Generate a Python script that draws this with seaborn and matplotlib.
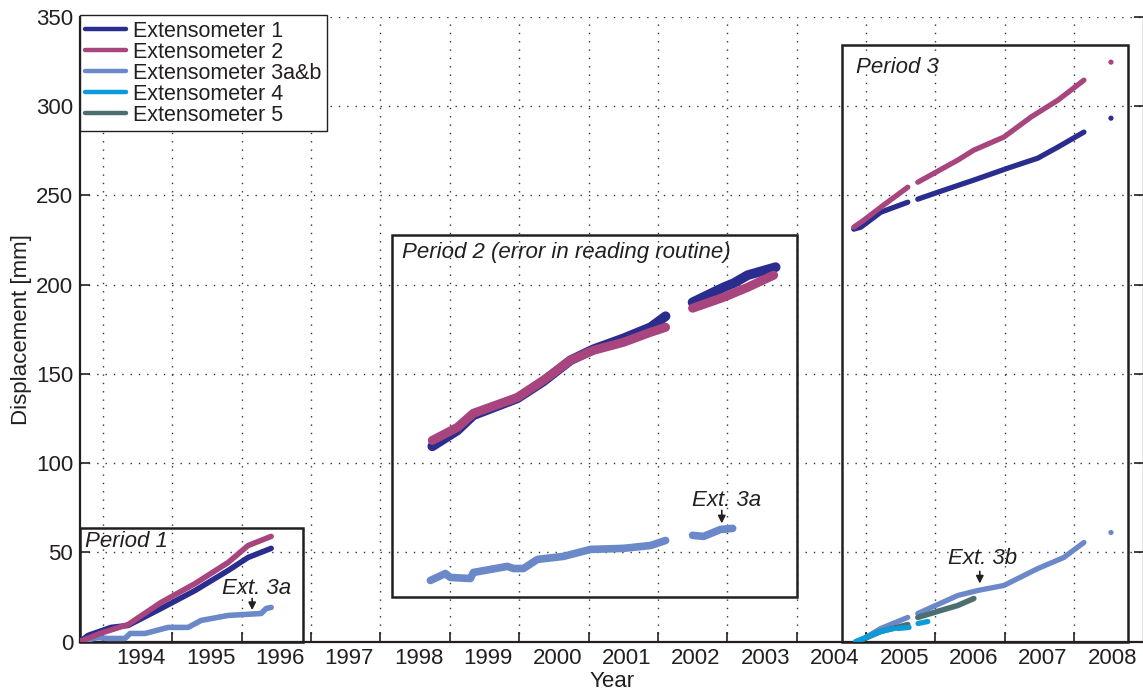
import numpy as np
import pandas as pd
import matplotlib
matplotlib.use("Agg")
import matplotlib.pyplot as plt
from matplotlib.lines import Line2D
from matplotlib.patches import Rectangle
import seaborn as sns

NAN = np.nan

# ---------------------------------------------------------------------------
# Extensometer readings: decimal year and displacement [mm].
# NaN marks a gap in the logging.
# ---------------------------------------------------------------------------
# Period 1
p1_ext1_t = [1993.668, 1993.784, 1994.115, 1994.361, 1994.837, 1995.328, 1995.804, 1996.092, 1996.424]
p1_ext1_y = [0.0, 3.4, 7.9, 9.0, 18.5, 28.6, 39.8, 47.1, 52.2]
p1_ext2_t = [1993.668, 1993.957, 1994.361, 1994.837, 1995.328, 1995.804, 1996.092, 1996.424]
p1_ext2_y = [0.0, 4.5, 9.5, 21.9, 32.5, 44.3, 53.8, 58.9]
p1_ext3_t = [1993.668, 1993.928, 1994.072, 1994.317, 1994.390, 1994.606, 1994.938, 1995.227,
             1995.414, 1995.804, 1996.280, 1996.352, 1996.424]
p1_ext3_y = [0.0, 2.2, 1.7, 1.7, 4.5, 4.5, 7.9, 7.9, 11.8, 14.6, 15.7, 18.5, 19.1]

# Period 2
p2_ext1_t = [1998.747, 1999.108, 1999.339, 1999.974, 2000.349, 2000.739, 2001.071, 2001.504,
             2001.893, 2002.110, NAN, 2002.499, 2002.947, 2003.091, 2003.293, 2003.697]
p2_ext1_y = [109.4, 118.3, 126.8, 136.3, 145.8, 157.6, 163.8, 169.9,
             176.1, 182.3, NAN, 190.1, 198.5, 200.8, 205.3, 209.8]
p2_ext2_t = [1998.747, 1999.108, 1999.339, 1999.974, 2000.349, 2000.739, 2001.071, 2001.504,
             2001.893, 2002.110, NAN, 2002.499, 2002.947, 2003.293, 2003.668]
p2_ext2_y = [112.7, 120.0, 127.9, 136.8, 146.4, 157.6, 163.2, 167.7,
             173.3, 176.1, NAN, 186.8, 192.9, 198.5, 205.3]
p2_ext3_t = [1998.719, 1998.935, 1999.007, 1999.296, 1999.339, 1999.830, 1999.917, 2000.061,
             2000.263, 2000.638, 2001.027, 2001.504, 2001.893, 2002.110, NAN,
             2002.499, 2002.658, 2002.903, 2003.077]
p2_ext3_y = [34.2, 38.1, 35.9, 35.3, 38.7, 42.1, 40.9, 40.9,
             46.0, 47.7, 51.6, 52.2, 53.8, 56.6, NAN,
             59.5, 58.9, 62.8, 63.4]

# Period 3
p3_ext1_t = [2004.823, 2004.924, 2005.212, 2005.602, NAN, 2005.746, 2006.035, 2006.554,
             2007.045, 2007.477, 2007.766, 2008.141]
p3_ext1_y = [231.1, 232.2, 240.6, 246.2, NAN, 247.9, 251.8, 258.6,
             265.3, 270.9, 277.1, 285.5]
p3_ext2_t = [2004.823, 2004.967, 2005.212, 2005.602, NAN, 2005.746, 2006.323, 2006.554,
             2006.987, 2007.377, 2007.766, 2008.141]
p3_ext2_y = [232.2, 236.1, 243.4, 254.6, NAN, 257.4, 269.8, 275.4,
             282.7, 293.9, 303.4, 314.6]
p3_ext3_t = [2004.924, 2005.212, 2005.602, NAN, 2005.746, 2006.323, 2006.612, 2006.987,
             2007.477, 2007.852, 2008.141]
p3_ext3_y = [0.6, 7.3, 13.5, NAN, 15.7, 25.8, 28.6, 31.4, 40.9, 47.1, 55.5]
p3_ext4_t = [2004.850, 2005.070, 2005.210, 2005.400, NAN, 2005.460, 2005.620, NAN, 2005.750, 2005.890]
p3_ext4_y = [0.0, 3.4, 5.6, 7.3, NAN, 7.3, 7.9, NAN, 10.1, 11.2]
p3_ext5_t = [2004.880, 2005.212, 2005.602, NAN, 2005.746, 2006.078, 2006.323, 2006.554]
p3_ext5_y = [0.0, 5.6, 9.5, NAN, 13.5, 17.4, 20.2, 24.1]

# Isolated last readings (2008)
last_t = [2008.531, 2008.531, 2008.531]
last_y = [293.3, 324.7, 61.1]
last_sensor = ["Extensometer 1", "Extensometer 2", "Extensometer 3a&b"]

sensors = ["Extensometer 1", "Extensometer 2", "Extensometer 3a&b",
           "Extensometer 4", "Extensometer 5"]
colors = ["#2b2d8e", "#a8457f", "#6b88c9", "#0c9bd9", "#4b6f6e"]
palette = dict(zip(sensors, colors))

years = list(range(1994, 2009))
year_labels = [str(y) for y in years]


def to_frame(t, y, sensor, period):
    """Long-format frame; each NaN-separated run becomes its own unit."""
    t = np.asarray(t, float)
    y = np.asarray(y, float)
    seg = np.cumsum(np.isnan(t))
    df = pd.DataFrame({"year": t, "disp": y, "sensor": sensor,
                       "seg": [f"{period}-{sensor}-{s}" for s in seg]})
    return df.dropna()


# Drawing order per period (later = on top) and stroke width in points
layers = [
    (p1_ext3_t, p1_ext3_y, sensors[2], "P1", 4.0),
    (p1_ext1_t, p1_ext1_y, sensors[0], "P1", 4.0),
    (p1_ext2_t, p1_ext2_y, sensors[1], "P1", 4.0),
    (p2_ext3_t, p2_ext3_y, sensors[2], "P2", 5.5),
    (p2_ext1_t, p2_ext1_y, sensors[0], "P2", 7.0),
    (p2_ext2_t, p2_ext2_y, sensors[1], "P2", 6.5),
    (p3_ext1_t, p3_ext1_y, sensors[0], "P3", 3.8),
    (p3_ext2_t, p3_ext2_y, sensors[1], "P3", 3.8),
    (p3_ext3_t, p3_ext3_y, sensors[2], "P3", 3.8),
    (p3_ext5_t, p3_ext5_y, sensors[4], "P3", 4.0),
    (p3_ext4_t, p3_ext4_y, sensors[3], "P3", 3.8),
]

sns.set_theme(style="white")
plt.rcParams["font.family"] = ["Liberation Sans", "DejaVu Sans"]
plt.rcParams["font.size"] = 16
text_color = "#231f20"

fig = plt.figure(figsize=(11.43, 6.92), dpi=100)
W, H = 1143.0, 692.0
ax = fig.add_axes([80 / W, (H - 641.5) / H, (1143.5 - 80) / W, (641.5 - 17) / H])

for t, y, sensor, period, width in layers:
    df = to_frame(t, y, sensor, period)
    sns.lineplot(data=df, x="year", y="disp", units="seg", estimator=None,
                 color=palette[sensor], lw=width, sort=False, legend=False,
                 solid_capstyle="round", solid_joinstyle="round", ax=ax, zorder=3)

last = pd.DataFrame({"year": last_t, "disp": last_y, "sensor": last_sensor})
sns.scatterplot(data=last, x="year", y="disp", hue="sensor", palette=palette,
                s=14, linewidth=0, legend=False, ax=ax, zorder=3)

ax.set_xlim(1993.668, 2009.0)
ax.set_ylim(0, 350)

# Grid lines at the turn of each year; labels sit inside the year
ax.set_xticks(years)
ax.set_xticklabels([])
ax.set_xticks([y + 0.55 for y in years], minor=True)
ax.set_xticklabels(year_labels, minor=True)
ax.set_yticks(np.arange(0, 351, 50))
ax.tick_params(axis="x", which="major", direction="in", length=7, width=1.2,
               color=text_color, bottom=True, top=False)
ax.tick_params(axis="x", which="minor", length=0, pad=5, labelsize=16,
               labelcolor=text_color)
ax.tick_params(axis="y", direction="in", length=7, width=1.2, color=text_color,
               left=True, right=True, pad=5, labelsize=16, labelcolor=text_color)

ax.grid(True, which="major", color="#333333", linestyle=(0, (1, 5)), lw=1.0)
ax.set_axisbelow(True)
for side in ["left", "bottom", "right"]:
    ax.spines[side].set_visible(True)
    ax.spines[side].set_color(text_color)
    ax.spines[side].set_linewidth(1.6)
ax.spines["top"].set_visible(False)

ax.set_xlabel("Year", fontsize=16, color=text_color, labelpad=1)
ax.set_ylabel("Displacement [mm]", fontsize=16, color=text_color, labelpad=3)

# Period frames
frames = [
    (1993.668, 0.0, 1996.886, 63.4),
    (1998.170, 25.2, 2004.010, 227.7),
    (2004.650, 0.0, 2008.780, 334.3),
]
for x0, y0, x1, y1 in frames:
    ax.add_patch(Rectangle((x0, y0), x1 - x0, y1 - y0, fill=False,
                           edgecolor=text_color, lw=1.8, zorder=2.5, clip_on=False))

italic = dict(fontsize=16, style="italic", color=text_color, va="center", ha="left", zorder=5)
ax.text(1993.74, 56.1, "Period 1", **italic)
ax.text(1998.31, 218.2, "Period 2 (error in reading routine)", **italic)
ax.text(2004.85, 321.9, "Period 3", **italic)

arrow = dict(arrowstyle="-|>", color=text_color, lw=1.2, mutation_scale=11,
             shrinkA=0, shrinkB=0)
notes = [
    ("Ext. 3a", 1996.22, 29.7, 1996.15, 24.1, 17.6),
    ("Ext. 3a", 2002.99, 79.1, 2002.92, 73.5, 66.2),
    ("Ext. 3b", 2006.68, 46.5, 2006.64, 39.3, 32.5),
]
for label, tx, ty, ax_x, y_from, y_to in notes:
    ax.text(tx, ty, label, fontsize=16, style="italic", color=text_color,
            ha="center", va="center", zorder=5)
    ax.annotate("", xy=(ax_x, y_to), xytext=(ax_x, y_from), arrowprops=arrow, zorder=5)

handles = [Line2D([0], [0], color=palette[s], lw=3.2) for s in sensors]
leg = ax.legend(handles, sensors, loc="upper left", bbox_to_anchor=(0.0, 1.003),
                borderaxespad=0, frameon=True, fancybox=False, fontsize=15.5,
                handlelength=1.9, handletextpad=0.3, labelspacing=0.0,
                borderpad=0.25)
leg.get_frame().set_edgecolor(text_color)
leg.get_frame().set_linewidth(1.0)
leg.get_frame().set_facecolor("white")
leg.get_frame().set_alpha(1.0)
for txt in leg.get_texts():
    txt.set_color(text_color)

fig.savefig("out.png", dpi=100)
